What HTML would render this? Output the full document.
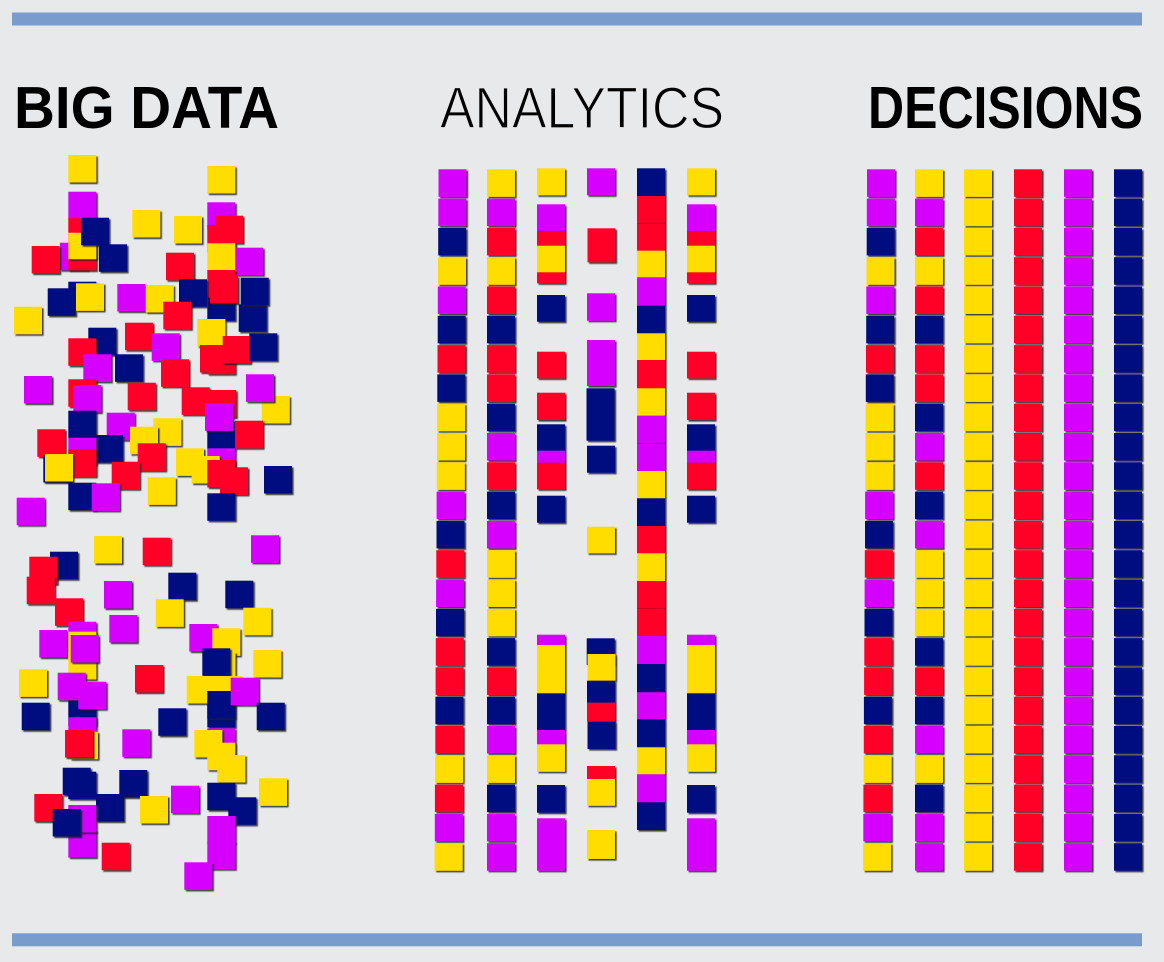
<!DOCTYPE html>
<html><head><meta charset="utf-8"><style>
html,body{margin:0;padding:0;background:#e8e9eb;}
svg{display:block}
.m{fill:#d600ff}.y{fill:#ffdd00}.r{fill:#ff0028}.n{fill:#000f80}
.q rect{filter:url(#sh)}
g.s{filter:url(#sh)}
</style></head><body>
<svg width="1164" height="962" viewBox="0 0 1164 962" xmlns="http://www.w3.org/2000/svg">
<defs><filter id="sh" x="-20%" y="-20%" width="150%" height="150%"><feDropShadow dx="1.6" dy="1.6" stdDeviation="0.6" flood-color="#222" flood-opacity="0.85"/></filter>
<g id="dcol">
<rect x="0" y="169.3" width="28" height="27.5" filter="url(#sh)"/>
<rect x="0" y="198.6" width="28" height="27.5" filter="url(#sh)"/>
<rect x="0" y="227.9" width="28" height="27.5" filter="url(#sh)"/>
<rect x="0" y="257.2" width="28" height="27.5" filter="url(#sh)"/>
<rect x="0" y="286.5" width="28" height="27.5" filter="url(#sh)"/>
<rect x="0" y="315.8" width="28" height="27.5" filter="url(#sh)"/>
<rect x="0" y="345.1" width="28" height="27.5" filter="url(#sh)"/>
<rect x="0" y="374.4" width="28" height="27.5" filter="url(#sh)"/>
<rect x="0" y="403.7" width="28" height="27.5" filter="url(#sh)"/>
<rect x="0" y="433" width="28" height="27.5" filter="url(#sh)"/>
<rect x="0" y="462.3" width="28" height="27.5" filter="url(#sh)"/>
<rect x="0" y="491.6" width="28" height="27.5" filter="url(#sh)"/>
<rect x="0" y="520.9" width="28" height="27.5" filter="url(#sh)"/>
<rect x="0" y="550.2" width="28" height="27.5" filter="url(#sh)"/>
<rect x="0" y="579.5" width="28" height="27.5" filter="url(#sh)"/>
<rect x="0" y="608.8" width="28" height="27.5" filter="url(#sh)"/>
<rect x="0" y="638.1" width="28" height="27.5" filter="url(#sh)"/>
<rect x="0" y="667.4" width="28" height="27.5" filter="url(#sh)"/>
<rect x="0" y="696.7" width="28" height="27.5" filter="url(#sh)"/>
<rect x="0" y="726" width="28" height="27.5" filter="url(#sh)"/>
<rect x="0" y="755.3" width="28" height="27.5" filter="url(#sh)"/>
<rect x="0" y="784.6" width="28" height="27.5" filter="url(#sh)"/>
<rect x="0" y="813.9" width="28" height="27.5" filter="url(#sh)"/>
<rect x="0" y="843.2" width="28" height="27.5" filter="url(#sh)"/>
</g>
</defs>
<rect x="0" y="0" width="1164" height="962" fill="#e8e9eb"/>
<rect x="12" y="12.5" width="1130" height="13" fill="#7a9ccd"/>
<rect x="12" y="933.3" width="1130" height="13" fill="#7a9ccd"/>
<text x="14" y="128" font-family="Liberation Sans, sans-serif" font-weight="bold" font-size="59" textLength="265" lengthAdjust="spacingAndGlyphs" fill="#000">BIG DATA</text>
<text x="440" y="128" font-family="Liberation Sans, sans-serif" font-size="58" textLength="284" lengthAdjust="spacingAndGlyphs" fill="#000" stroke="#e8e9eb" stroke-width="1.2">ANALYTICS</text>
<text x="868" y="128" font-family="Liberation Sans, sans-serif" font-weight="bold" font-size="59" textLength="275" lengthAdjust="spacingAndGlyphs" fill="#000">DECISIONS</text>

<!-- BIG DATA -->
<g class="q">
<rect class="y" x="68.3" y="155" width="28" height="27.5"/>
<rect class="y" x="207.3" y="166" width="28" height="27.5"/>
<rect class="m" x="68.3" y="191.7" width="28" height="27.5"/>
<rect class="r" x="68.3" y="218.3" width="28" height="27.5"/>
<rect class="m" x="60" y="242.7" width="28" height="27.5"/>
<rect class="r" x="68.3" y="243" width="28" height="27.5"/>
<rect class="y" x="68.3" y="232.7" width="28" height="26.5"/>
<rect class="n" x="81" y="217.7" width="28" height="27.5"/>
<rect class="n" x="99" y="244.3" width="28" height="27.5"/>
<rect class="r" x="31.7" y="246" width="28" height="27.5"/>
<rect class="y" x="132.3" y="210" width="28" height="27.5"/>
<rect class="y" x="174" y="216" width="28" height="27.5"/>
<rect class="m" x="207.3" y="202.3" width="28" height="27.5"/>
<rect class="r" x="207.3" y="225" width="28" height="27.5"/>
<rect class="r" x="215" y="215.7" width="28" height="27.5"/>
<rect class="y" x="207.3" y="243.3" width="28" height="27.5"/>
<rect class="m" x="235.3" y="247.7" width="28" height="27.5"/>
<rect class="r" x="166" y="252.7" width="28" height="27.5"/>
<rect class="n" x="207.3" y="293.3" width="28" height="27.5"/>
<rect class="r" x="207.3" y="270" width="28" height="27.5"/>
<rect class="r" x="210" y="276" width="28" height="27.5"/>
<rect class="n" x="238.7" y="304.3" width="28" height="27.5"/>
<rect class="n" x="240.7" y="277.7" width="28" height="27.5"/>
<rect class="n" x="179" y="279.3" width="28" height="27.5"/>
<rect class="n" x="68.3" y="281.7" width="28" height="27.5"/>
<rect class="n" x="47.7" y="288.3" width="28" height="27.5"/>
<rect class="y" x="76" y="283.3" width="28" height="27.5"/>
<rect class="m" x="117.3" y="284" width="28" height="27.5"/>
<rect class="y" x="145.7" y="285" width="28" height="27.5"/>
<rect class="r" x="163.3" y="301.7" width="28" height="27.5"/>
<rect class="y" x="14" y="306.7" width="28" height="27.5"/>
<rect class="y" x="197.3" y="319" width="28" height="27.5"/>
<rect class="r" x="125" y="322.7" width="28" height="27.5"/>
<rect class="n" x="88.3" y="327.7" width="28" height="27.5"/>
<rect class="r" x="68.3" y="338.3" width="28" height="27.5"/>
<rect class="m" x="151.7" y="333.3" width="28" height="27.5"/>
<rect class="r" x="200" y="345" width="28" height="27.5"/>
<rect class="r" x="207.3" y="346.7" width="28" height="27.5"/>
<rect class="r" x="222.7" y="336" width="28" height="27.5"/>
<rect class="n" x="249.3" y="333.3" width="28" height="27.5"/>
<rect class="m" x="83.3" y="354.3" width="28" height="27.5"/>
<rect class="n" x="115" y="354.3" width="28" height="27.5"/>
<rect class="r" x="161" y="359.3" width="28" height="27.5"/>
<rect class="m" x="24" y="376" width="28" height="27.5"/>
<rect class="y" x="261.7" y="396" width="28" height="27.5"/>
<rect class="m" x="246" y="374.3" width="28" height="27.5"/>
<rect class="r" x="68.3" y="379.3" width="28" height="27.5"/>
<rect class="m" x="73.3" y="385" width="28" height="27.5"/>
<rect class="r" x="127.7" y="382.7" width="28" height="27.5"/>
<rect class="r" x="181.7" y="387.3" width="28" height="27.5"/>
<rect class="r" x="208.3" y="390" width="28" height="27.5"/>
<rect class="n" x="207.3" y="421.7" width="28" height="27.5"/>
<rect class="m" x="205" y="403.3" width="28" height="27.5"/>
<rect class="n" x="68.3" y="410.7" width="28" height="27.5"/>
<rect class="m" x="106.7" y="412.7" width="28" height="27.5"/>
<rect class="r" x="37.3" y="429.3" width="28" height="27.5"/>
<rect class="n" x="95" y="435" width="28" height="27.5"/>
<rect class="m" x="68.3" y="437.7" width="28" height="27.5"/>
<rect class="n" x="43.3" y="455" width="28" height="27.5"/>
<rect class="r" x="68.3" y="449.3" width="28" height="27.5"/>
<rect class="y" x="45" y="454" width="28" height="27.5"/>
<rect class="y" x="153.3" y="418.3" width="28" height="27.5"/>
<rect class="y" x="130" y="426.7" width="28" height="27.5"/>
<rect class="r" x="137.7" y="443.3" width="28" height="27.5"/>
<rect class="r" x="111.7" y="461.7" width="28" height="27.5"/>
<rect class="r" x="235" y="420.7" width="28" height="27.5"/>
<rect class="m" x="207.3" y="448.3" width="28" height="27.5"/>
<rect class="y" x="176" y="448.3" width="28" height="27.5"/>
<rect class="y" x="191.7" y="456" width="28" height="27.5"/>
<rect class="r" x="207.3" y="460" width="28" height="27.5"/>
<rect class="r" x="220" y="467.3" width="28" height="27.5"/>
<rect class="n" x="264" y="466" width="28" height="27.5"/>
<rect class="y" x="147.7" y="477.3" width="28" height="27.5"/>
<rect class="n" x="68.3" y="482.7" width="28" height="27.5"/>
<rect class="m" x="91.7" y="483.3" width="28" height="27.5"/>
<rect class="m" x="16.7" y="497.7" width="28" height="27.5"/>
<rect class="n" x="207.3" y="493.3" width="28" height="27.5"/>
<rect class="y" x="94" y="536" width="28" height="27.5"/>
<rect class="r" x="142.7" y="537.7" width="28" height="27.5"/>
<rect class="m" x="251" y="535.3" width="28" height="27.5"/>
<rect class="n" x="50" y="551.7" width="28" height="27.5"/>
<rect class="r" x="29.3" y="556.7" width="28" height="27.5"/>
<rect class="r" x="26.7" y="576.7" width="28" height="27.5"/>
<rect class="m" x="104" y="581" width="28" height="27.5"/>
<rect class="n" x="168.3" y="572.7" width="28" height="27.5"/>
<rect class="n" x="225.3" y="580.7" width="28" height="27.5"/>
<rect class="r" x="55" y="598.3" width="28" height="27.5"/>
<rect class="y" x="155.7" y="599.3" width="28" height="27.5"/>
<rect class="y" x="243.3" y="607.7" width="28" height="27.5"/>
<rect class="m" x="109.3" y="615" width="28" height="27.5"/>
<rect class="m" x="39.3" y="630" width="28" height="27.5"/>
<rect class="m" x="68.3" y="621.7" width="28" height="27.5"/>
<rect class="y" x="68.3" y="631.7" width="28" height="27.5"/>
<rect class="y" x="68.3" y="652" width="28" height="27.5"/>
<rect class="m" x="70.7" y="635" width="28" height="27.5"/>
<rect class="m" x="189.3" y="624" width="28" height="27.5"/>
<rect class="y" x="212.3" y="628.3" width="28" height="27.5"/>
<rect class="y" x="207.5" y="652" width="28" height="27.5"/>
<rect class="n" x="202.3" y="648.3" width="28" height="27.5"/>
<rect class="y" x="253.3" y="650" width="28" height="27.5"/>
<rect class="r" x="135" y="665" width="28" height="27.5"/>
<rect class="y" x="19" y="669.3" width="28" height="27.5"/>
<rect class="n" x="68.3" y="698.3" width="28" height="27.5"/>
<rect class="m" x="57.7" y="672.7" width="28" height="27.5"/>
<rect class="m" x="78.3" y="681.7" width="28" height="27.5"/>
<rect class="y" x="186.7" y="676" width="28" height="27.5"/>
<rect class="n" x="207.3" y="700" width="28" height="27.5"/>
<rect class="y" x="213.3" y="676" width="28" height="27.5"/>
<rect class="n" x="207.3" y="691" width="28" height="27.5"/>
<rect class="m" x="230.7" y="677.7" width="28" height="27.5"/>
<rect class="n" x="256.7" y="702.7" width="28" height="27.5"/>
<rect class="n" x="158.3" y="708.3" width="28" height="27.5"/>
<rect class="n" x="21.7" y="702.7" width="28" height="27.5"/>
<rect class="m" x="68.3" y="717.3" width="28" height="27.5"/>
<rect class="y" x="70" y="731.7" width="28" height="27.5"/>
<rect class="r" x="65" y="730" width="28" height="27.5"/>
<rect class="m" x="122.3" y="729.3" width="28" height="27.5"/>
<rect class="m" x="207.3" y="728.3" width="28" height="27.5"/>
<rect class="y" x="194.3" y="730" width="28" height="27.5"/>
<rect class="y" x="207.3" y="742.7" width="28" height="27.5"/>
<rect class="y" x="217.3" y="755" width="28" height="27.5"/>
<rect class="n" x="62.7" y="767.7" width="28" height="27.5"/>
<rect class="n" x="68.3" y="771.7" width="28" height="27.5"/>
<rect class="n" x="119.3" y="770" width="28" height="27.5"/>
<rect class="n" x="96" y="794" width="28" height="27.5"/>
<rect class="r" x="34.3" y="794" width="28" height="27.5"/>
<rect class="y" x="140" y="796" width="28" height="27.5"/>
<rect class="m" x="171" y="785.7" width="28" height="27.5"/>
<rect class="y" x="259" y="778.3" width="28" height="27.5"/>
<rect class="n" x="207.3" y="782.7" width="28" height="27.5"/>
<rect class="n" x="228.3" y="797.3" width="28" height="27.5"/>
<rect class="m" x="68.3" y="830" width="28" height="27.5"/>
<rect class="m" x="68.3" y="805" width="28" height="27.5"/>
<rect class="n" x="52.7" y="809" width="28" height="27.5"/>
<rect class="r" x="101.7" y="842.7" width="28" height="27.5"/>
<rect class="m" x="207.3" y="816" width="28" height="27.5"/>
<rect class="m" x="207.3" y="841.7" width="28" height="27.5"/>
<rect class="m" x="184.3" y="862.3" width="28" height="27.5"/>
</g>

<!-- ANALYTICS col A -->
<g class="q">
<rect class="m" x="438.5" y="169.3" width="28" height="27.5"/>
<rect class="m" x="438.3" y="198.6" width="28" height="27.5"/>
<rect class="n" x="438.2" y="227.9" width="28" height="27.5"/>
<rect class="y" x="438" y="257.2" width="28" height="27.5"/>
<rect class="m" x="437.8" y="286.5" width="28" height="27.5"/>
<rect class="n" x="437.7" y="315.8" width="28" height="27.5"/>
<rect class="r" x="437.5" y="345.1" width="28" height="27.5"/>
<rect class="n" x="437.3" y="374.4" width="28" height="27.5"/>
<rect class="y" x="437.1" y="403.7" width="28" height="27.5"/>
<rect class="y" x="437" y="433" width="28" height="27.5"/>
<rect class="y" x="436.8" y="462.3" width="28" height="27.5"/>
<rect class="m" x="436.6" y="491.6" width="28" height="27.5"/>
<rect class="n" x="436.5" y="520.9" width="28" height="27.5"/>
<rect class="r" x="436.3" y="550.2" width="28" height="27.5"/>
<rect class="m" x="436.1" y="579.5" width="28" height="27.5"/>
<rect class="n" x="436" y="608.8" width="28" height="27.5"/>
<rect class="r" x="435.8" y="638.1" width="28" height="27.5"/>
<rect class="r" x="435.6" y="667.4" width="28" height="27.5"/>
<rect class="n" x="435.4" y="696.7" width="28" height="27.5"/>
<rect class="r" x="435.3" y="726" width="28" height="27.5"/>
<rect class="y" x="435.1" y="755.3" width="28" height="27.5"/>
<rect class="r" x="434.9" y="784.6" width="28" height="27.5"/>
<rect class="m" x="434.8" y="813.9" width="28" height="27.5"/>
<rect class="y" x="434.6" y="843.2" width="28" height="27.5"/>
</g>
<!-- col B -->
<g class="q">
<rect class="y" x="487" y="169.3" width="28" height="27.5"/>
<rect class="m" x="487" y="198.6" width="28" height="27.5"/>
<rect class="r" x="487" y="227.9" width="28" height="27.5"/>
<rect class="y" x="487" y="257.2" width="28" height="27.5"/>
<rect class="r" x="487" y="286.5" width="28" height="27.5"/>
<rect class="n" x="487" y="315.8" width="28" height="27.5"/>
<rect class="r" x="487" y="345.1" width="28" height="27.5"/>
<rect class="r" x="487" y="374.4" width="28" height="27.5"/>
<rect class="n" x="487" y="403.7" width="28" height="27.5"/>
<rect class="m" x="487" y="433" width="28" height="27.5"/>
<rect class="r" x="487" y="462.3" width="28" height="27.5"/>
<rect class="n" x="487" y="491.6" width="28" height="27.5"/>
<rect class="m" x="487" y="520.9" width="28" height="27.5"/>
<rect class="y" x="487" y="550.2" width="28" height="27.5"/>
<rect class="y" x="487" y="579.5" width="28" height="27.5"/>
<rect class="y" x="487" y="608.8" width="28" height="27.5"/>
<rect class="n" x="487" y="638.1" width="28" height="27.5"/>
<rect class="r" x="487" y="667.4" width="28" height="27.5"/>
<rect class="n" x="487" y="696.7" width="28" height="27.5"/>
<rect class="m" x="487" y="726" width="28" height="27.5"/>
<rect class="y" x="487" y="755.3" width="28" height="27.5"/>
<rect class="n" x="487" y="784.6" width="28" height="27.5"/>
<rect class="m" x="487" y="813.9" width="28" height="27.5"/>
<rect class="m" x="487" y="843.2" width="28" height="27.5"/>
</g>
<!-- col C and F -->
<g id="colC">
<g class="s"><rect class="y" x="537" y="168.3" width="28" height="27"/></g>
<g class="s"><rect class="m" x="537" y="204.3" width="28" height="27"/><rect class="r" x="537" y="231" width="28" height="15"/><rect class="y" x="537" y="245.7" width="28" height="26.8"/><rect class="r" x="537" y="272.3" width="28" height="11"/></g>
<g class="s"><rect class="n" x="537" y="295" width="28" height="26.7"/></g>
<g class="s"><rect class="r" x="537" y="351.7" width="28" height="26.7"/></g>
<g class="s"><rect class="r" x="537" y="392.7" width="28" height="27.3"/></g>
<g class="s"><rect class="n" x="537" y="424.3" width="28" height="26.6"/><rect class="m" x="537" y="450.7" width="28" height="12.2"/><rect class="r" x="537" y="462.7" width="28" height="26.6"/></g>
<g class="s"><rect class="n" x="537" y="495.7" width="28" height="27"/></g>
<g class="s"><rect class="m" x="537" y="634.7" width="28" height="10.5"/><rect class="y" x="537" y="645" width="28" height="48.5"/><rect class="n" x="537" y="693.3" width="28" height="36.9"/><rect class="m" x="537" y="730" width="28" height="14.5"/><rect class="y" x="537" y="744.3" width="28" height="27.4"/></g>
<g class="s"><rect class="n" x="537" y="785" width="28" height="27.7"/></g>
<g class="s"><rect class="m" x="537" y="818.3" width="28" height="52.4"/></g>
</g>
<use href="#colC" x="150"/>
<!-- col D -->
<g class="q">
<rect class="m" x="587" y="168.3" width="28" height="27"/>
<rect class="r" x="587.5" y="228.3" width="28" height="34"/>
<rect class="m" x="587" y="293.3" width="28" height="27.4"/>
<rect class="m" x="587" y="340" width="28" height="46"/>
<rect class="n" x="586.5" y="388.3" width="28" height="52.4"/>
<rect class="n" x="587" y="445.7" width="28" height="27"/>
<rect class="y" x="587" y="526.7" width="28" height="26.6"/>
<rect class="n" x="586.7" y="638.3" width="28" height="26.7"/>
<rect class="y" x="587.5" y="654" width="28" height="26.7"/>
</g>
<g class="s"><rect class="n" x="587" y="680.7" width="28" height="22.1"/><rect class="r" x="587" y="702.7" width="28" height="19.1"/><rect class="n" x="587.5" y="721.7" width="28" height="27.3"/></g>
<g class="s"><rect class="r" x="587" y="766" width="28" height="13.1"/><rect class="y" x="587" y="779" width="28" height="26.7"/></g>
<g class="s"><rect class="y" x="587" y="830" width="28" height="29"/></g>
<!-- col E -->
<g class="s">
<rect class="n" x="637" y="168.3" width="28" height="27.8"/>
<rect class="r" x="637" y="196" width="28" height="54.8"/>
<rect class="y" x="637" y="250.7" width="28" height="26.7"/>
<rect class="m" x="637" y="277.3" width="28" height="28.5"/>
<rect class="n" x="637" y="305.7" width="28" height="27.7"/>
<rect class="y" x="637" y="333.3" width="28" height="26.8"/>
<rect class="r" x="637" y="360" width="28" height="28.4"/>
<rect class="y" x="637" y="388.3" width="28" height="27.5"/>
<rect class="m" x="637" y="415.7" width="28" height="55.4"/>
<rect class="y" x="637" y="471" width="28" height="27.4"/>
<rect class="n" x="637" y="498.3" width="28" height="27.8"/>
<rect class="r" x="637" y="526" width="28" height="27.4"/>
<rect class="y" x="637" y="553.3" width="28" height="27.8"/>
<rect class="r" x="637" y="581" width="28" height="55.1"/>
<rect class="m" x="637" y="636" width="28" height="28.1"/>
<rect class="n" x="637" y="664" width="28" height="28.4"/>
<rect class="m" x="637" y="692.3" width="28" height="27.1"/>
<rect class="n" x="637" y="719.3" width="28" height="28.1"/>
<rect class="y" x="637" y="747.3" width="28" height="27.1"/>
<rect class="m" x="637" y="774.3" width="28" height="28.1"/>
<rect class="n" x="637" y="802.3" width="28" height="27.7"/>
</g>
<g stroke="#00000033" stroke-width="0.8">
<line x1="637" y1="223.3" x2="665" y2="223.3"/>
<line x1="637" y1="443.3" x2="665" y2="443.3"/>
<line x1="637" y1="608.5" x2="665" y2="608.5"/>
</g>

<!-- DECISIONS -->
<g class="q">
<rect class="m" x="867" y="169.3" width="28" height="27.5"/>
<rect class="m" x="866.8" y="198.6" width="28" height="27.5"/>
<rect class="n" x="866.7" y="227.9" width="28" height="27.5"/>
<rect class="y" x="866.5" y="257.2" width="28" height="27.5"/>
<rect class="m" x="866.3" y="286.5" width="28" height="27.5"/>
<rect class="n" x="866.2" y="315.8" width="28" height="27.5"/>
<rect class="r" x="866" y="345.1" width="28" height="27.5"/>
<rect class="n" x="865.8" y="374.4" width="28" height="27.5"/>
<rect class="y" x="865.6" y="403.7" width="28" height="27.5"/>
<rect class="y" x="865.5" y="433" width="28" height="27.5"/>
<rect class="y" x="865.3" y="462.3" width="28" height="27.5"/>
<rect class="m" x="865.1" y="491.6" width="28" height="27.5"/>
<rect class="n" x="865" y="520.9" width="28" height="27.5"/>
<rect class="r" x="864.8" y="550.2" width="28" height="27.5"/>
<rect class="m" x="864.6" y="579.5" width="28" height="27.5"/>
<rect class="n" x="864.5" y="608.8" width="28" height="27.5"/>
<rect class="r" x="864.3" y="638.1" width="28" height="27.5"/>
<rect class="r" x="864.1" y="667.4" width="28" height="27.5"/>
<rect class="n" x="863.9" y="696.7" width="28" height="27.5"/>
<rect class="r" x="863.8" y="726" width="28" height="27.5"/>
<rect class="y" x="863.6" y="755.3" width="28" height="27.5"/>
<rect class="r" x="863.4" y="784.6" width="28" height="27.5"/>
<rect class="m" x="863.3" y="813.9" width="28" height="27.5"/>
<rect class="y" x="863.1" y="843.2" width="28" height="27.5"/>

<rect class="y" x="915" y="169.3" width="28" height="27.5"/>
<rect class="m" x="915" y="198.6" width="28" height="27.5"/>
<rect class="r" x="915" y="227.9" width="28" height="27.5"/>
<rect class="y" x="915" y="257.2" width="28" height="27.5"/>
<rect class="r" x="915" y="286.5" width="28" height="27.5"/>
<rect class="n" x="915" y="315.8" width="28" height="27.5"/>
<rect class="r" x="915" y="345.1" width="28" height="27.5"/>
<rect class="r" x="915" y="374.4" width="28" height="27.5"/>
<rect class="n" x="915" y="403.7" width="28" height="27.5"/>
<rect class="m" x="915" y="433" width="28" height="27.5"/>
<rect class="r" x="915" y="462.3" width="28" height="27.5"/>
<rect class="n" x="915" y="491.6" width="28" height="27.5"/>
<rect class="m" x="915" y="520.9" width="28" height="27.5"/>
<rect class="y" x="915" y="550.2" width="28" height="27.5"/>
<rect class="y" x="915" y="579.5" width="28" height="27.5"/>
<rect class="y" x="915" y="608.8" width="28" height="27.5"/>
<rect class="n" x="915" y="638.1" width="28" height="27.5"/>
<rect class="r" x="915" y="667.4" width="28" height="27.5"/>
<rect class="n" x="915" y="696.7" width="28" height="27.5"/>
<rect class="m" x="915" y="726" width="28" height="27.5"/>
<rect class="y" x="915" y="755.3" width="28" height="27.5"/>
<rect class="n" x="915" y="784.6" width="28" height="27.5"/>
<rect class="m" x="915" y="813.9" width="28" height="27.5"/>
<rect class="m" x="915" y="843.2" width="28" height="27.5"/>
</g>
<use href="#dcol" x="964" fill="#ffdd00"/>
<use href="#dcol" x="1014" fill="#ff0028"/>
<use href="#dcol" x="1064" fill="#d600ff"/>
<use href="#dcol" x="1114" fill="#000f80"/>
</svg>
</body></html>
